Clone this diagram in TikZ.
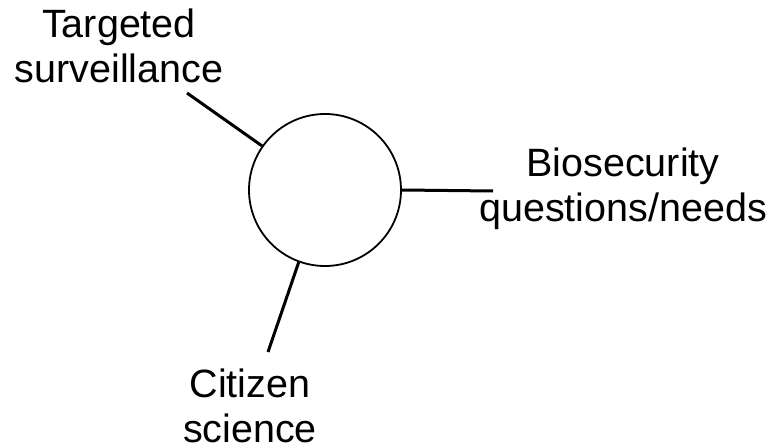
\documentclass[tikz,border=0pt]{standalone}
\usepackage{fontspec}
\setmainfont{Liberation Sans}
\begin{document}
\begin{tikzpicture}[x=1pt,y=-1pt,
  lbl/.style={font=\fontsize{39.5}{45}\selectfont, align=center, inner sep=0pt},
  conn/.style={line width=3pt},
  hub/.style={circle, draw, line width=1.8pt, minimum size=152pt, inner sep=0pt}]
\useasboundingbox (0,0) rectangle (777,447);
\node[hub] (c) at (325,190) {};
\node[lbl, anchor=base] (t) at (119,82) {Targeted\\surveillance};
\node[lbl, anchor=base] (b) at (623,221) {Biosecurity\\questions/needs};
\node[lbl, anchor=base] (s) at (250,442) {Citizen\\science};
\coordinate (te) at (187,93);
\coordinate (be) at (493,191);
\coordinate (se) at (268,352);
\draw[conn] (c.145) -- (te);
\draw[conn] (c.0) -- (be);
\draw[conn] (c.250) -- (se);
\end{tikzpicture}
\end{document}
